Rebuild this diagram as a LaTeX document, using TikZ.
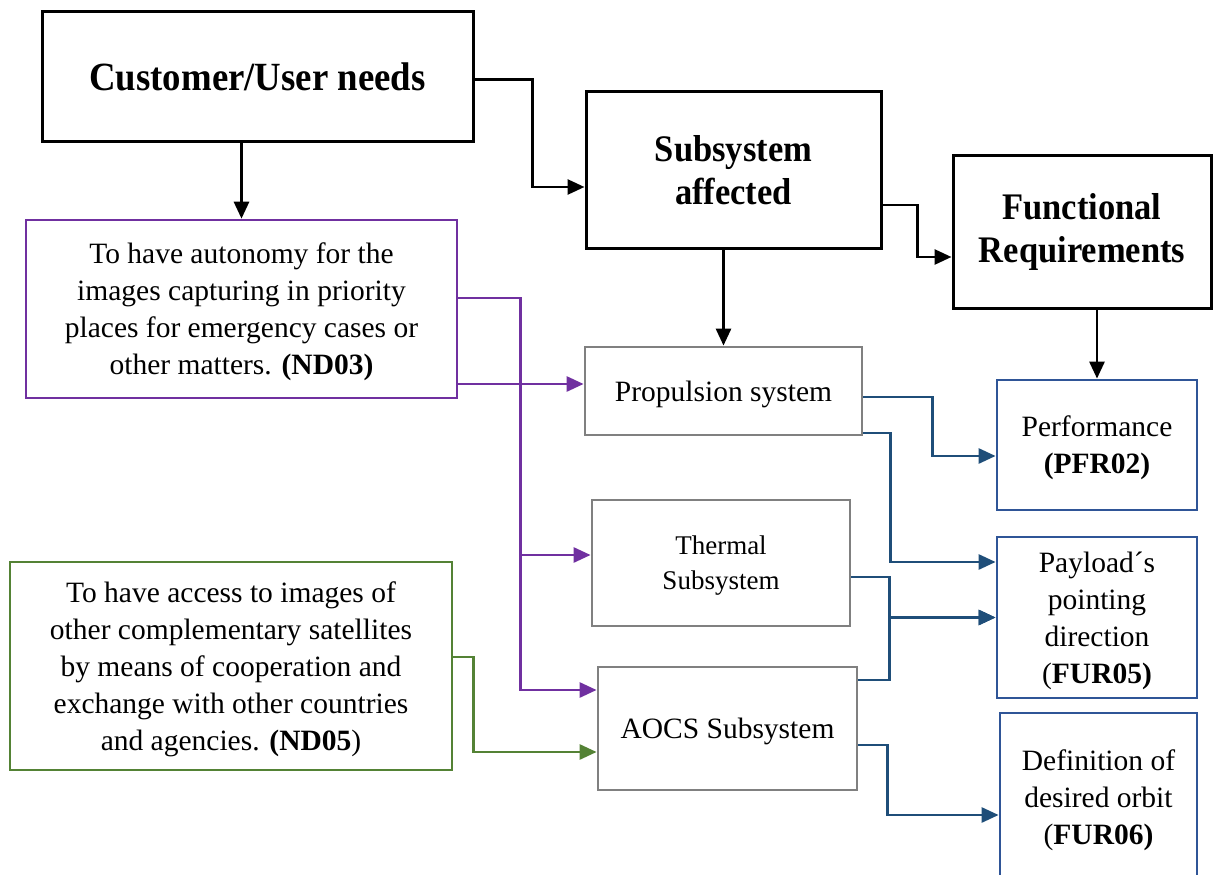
\documentclass[tikz,border=0pt]{standalone}
\usepackage{fontspec}
\setmainfont{Liberation Serif}
\newfontfamily\headfont[FakeStretch=0.92]{Liberation Serif}
\usetikzlibrary{arrows.meta}

\definecolor{needpurple}{HTML}{7030A0}
\definecolor{needgreen}{HTML}{548235}
\definecolor{reqblue}{HTML}{2F5597}
\definecolor{linkblue}{HTML}{1F4E79}
\definecolor{subgray}{HTML}{808080}

\begin{document}
\begin{tikzpicture}[x=1pt,y=-1pt,
  box/.style={draw, line width=3pt, align=center, inner sep=0pt, fill=white},
  headbox/.style={box, draw=black, font=\headfont\bfseries\fontsize{37.5}{43}\selectfont},
  bodytext/.style={font=\fontsize{29.5}{37}\selectfont, text depth=-7pt},
  needbox/.style={box, bodytext, line width=2.6pt},
  subbox/.style={box, bodytext, draw=subgray, line width=2.8pt},
  reqbox/.style={box, bodytext, draw=reqblue, line width=2.8pt},
  conn/.style={line width=2.8pt, -{Triangle[length=17pt,width=15pt]}},
  blk/.style={conn, draw=black},
  purp/.style={conn, draw=needpurple},
  grn/.style={conn, draw=needgreen},
  blu/.style={conn, draw=linkblue}
]
\useasboundingbox (0,0) rectangle (1219,875);

% top row: needs, subsystem, requirements
\node[headbox, minimum width=431pt, minimum height=129pt,
      font=\headfont\bfseries\fontsize{40}{46}\selectfont]
  (cust) at (257.5,76.5) {Customer/User needs};
\node[headbox, minimum width=295pt, minimum height=156pt]
  (sub) at (733.5,170) {Subsystem\\affected};
\node[headbox, minimum width=258pt, minimum height=153pt]
  (func) at (1082,231.5) {Functional\\Requirements};

% needs
\node[needbox, draw=needpurple, minimum width=431pt, minimum height=178pt]
  (nd03) at (241.5,309) {To have autonomy for the\\images capturing in priority\\places for emergency cases or\\other matters. \textbf{(ND03)}};
\node[needbox, draw=needgreen, minimum width=442pt, minimum height=208pt]
  (nd05) at (231,666) {To have access to images of\\other complementary satellites\\by means of cooperation and\\exchange with other countries\\and agencies. \textbf{(ND05})};

% subsystems
\node[subbox, minimum width=277pt, minimum height=88pt]
  (prop) at (723.5,391) {Propulsion system};
\node[subbox, minimum width=258pt, minimum height=126pt,
      font=\fontsize{27}{35}\selectfont]
  (therm) at (721,563) {Thermal\\Subsystem};
\node[subbox, minimum width=259pt, minimum height=123pt]
  (aocs) at (727.5,728.5) {AOCS Subsystem};

% requirements
\node[reqbox, minimum width=200pt, minimum height=130pt]
  (perf) at (1097,445) {Performance\\\textbf{(PFR02)}};
\node[reqbox, minimum width=200pt, minimum height=161pt, text depth=-17pt]
  (pay) at (1097,617.5) {Payload´s\\pointing\\direction\\(\textbf{FUR05)}};
\node[reqbox, minimum width=197pt, minimum height=168pt]
  (defn) at (1098.5,797) {Definition of\\desired orbit\\(\textbf{FUR06)}};

% black flow
\draw[blk] (cust.south -| nd03.north) -- (nd03.north);
\draw[blk] ([yshift=-3pt]cust.east) -- ++(58,0) |- ([yshift=-17pt]sub.west);
\draw[blk] ([yshift=-35pt]sub.east) -- ++(35,0) |- ([yshift=-25.5pt]func.west);
\draw[blk] (prop.north |- sub.south) -- (prop.north);
\draw[blk] (perf.north |- func.south) -- (perf.north);

% ND03 links
\draw[purp] ([yshift=7pt]prop.west -| nd03.east) -- ([yshift=7pt]prop.west);
\draw[purp] ([yshift=11pt]nd03.east) -- ++(62,0) |- ([yshift=8pt]therm.west);
\draw[purp] ([yshift=11pt]nd03.east) -- ++(62,0) |- ([yshift=38.5pt]aocs.west);

% ND05 link
\draw[grn] ([yshift=9pt]nd05.east) -- ++(20,0) |- ([yshift=-23.5pt]aocs.west);

% subsystem to requirement links
\draw[blu] ([yshift=-6pt]prop.east) -- ++(69,0) |- ([yshift=-11pt]perf.west);
\draw[blu] ([yshift=-42pt]prop.east) -- ++(27,0) |- ([yshift=55.5pt]pay.west);
\draw[blu] ([yshift=-14pt]therm.east) -- ++(38,0) |- (pay.west);
\draw[blu] ([yshift=48.5pt]aocs.east) -- ++(31,0) |- (pay.west);
\draw[blu] ([yshift=-16.5pt]aocs.east) -- ++(29,0) |- ([yshift=-18pt]defn.west);
\end{tikzpicture}
\end{document}
